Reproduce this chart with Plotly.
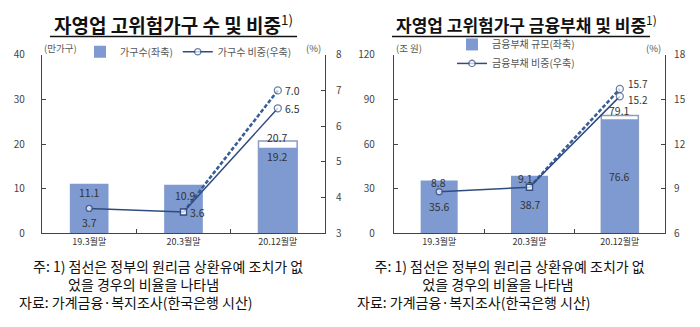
import plotly.graph_objects as go

# ---------------- data ----------------
categories = ["19.3월말", "20.3월말", "20.12월말"]

# left chart: 자영업 고위험가구 수 및 비중
households = [11.1, 10.9, 19.2]              # 만가구 (left axis)
households_nodeferral = [None, None, 20.7]   # without deferral (white top)
hh_ratio = [3.7, 3.6, 6.5]                   # % (right axis), solid
hh_ratio_nodeferral = [None, 3.6, 7.0]       # % dashed

# right chart: 자영업 고위험가구 금융부채 및 비중
debt = [35.6, 38.7, 76.6]                    # 조 원 (left axis)
debt_nodeferral = [None, None, 79.1]
debt_ratio = [8.8, 9.1, 15.2]
debt_ratio_nodeferral = [None, 9.1, 15.7]

W, H = 700, 327
def px(x):
    return x / W
def py(y):
    return 1 - y / H

BAR = "#7E9AD0"
LINE = "#2F4C80"
DASH = "#3A5E96"
AX = "#444444"
FONT = "Noto Sans CJK KR"

fig = go.Figure()

def add_panel(xa, ya, yb, vals, top, ratio, ratio_nd, bar_name, line_name, legend):
    fig.add_trace(go.Bar(x=categories, y=top, xaxis=xa, yaxis=ya, width=0.41,
                         marker=dict(color="white", line=dict(color="#8C9DBF", width=1.5)),
                         showlegend=False, hoverinfo="skip"))
    fig.add_trace(go.Bar(x=categories, y=vals, xaxis=xa, yaxis=ya, width=0.41,
                         marker=dict(color=BAR, line=dict(width=0)), name=bar_name,
                         legend=legend))
    fig.add_trace(go.Scatter(x=categories, y=ratio_nd, xaxis=xa, yaxis=yb, mode="lines+markers",
                             line=dict(color=DASH, width=2.6, dash="4px,2px"),
                             marker=dict(symbol=["square", "square", "circle"], size=[6, 6, 7],
                                         color="white", line=dict(color=LINE, width=1.3)),
                             showlegend=False, connectgaps=False))
    fig.add_trace(go.Scatter(x=categories, y=ratio, xaxis=xa, yaxis=yb, mode="lines+markers",
                             line=dict(color=LINE, width=1.5),
                             marker=dict(symbol=["circle", "square", "circle"], size=[6, 6, 7],
                                         color="white", line=dict(color=LINE, width=1.3)),
                             name=line_name, legend=legend))

add_panel("x", "y", "y2", households, households_nodeferral, hh_ratio, hh_ratio_nodeferral,
          "가구수(좌축)", "가구수 비중(우축)", "legend")
add_panel("x2", "y3", "y4", debt, debt_nodeferral, debt_ratio, debt_ratio_nodeferral,
          "금융부채 규모(좌축)", "금융부채 비중(우축)", "legend2")

ydom = [py(236), py(48)]
xcommon = dict(type="category", showline=True, linecolor=AX, linewidth=1.2, ticks="inside",
               tickson="boundaries", ticklen=4, tickcolor=AX, showgrid=False, zeroline=False,
               tickfont=dict(size=9, color="#333", family=FONT), range=[-0.5, 2.5], fixedrange=True)
ycommon = dict(showline=True, linecolor=AX, linewidth=1.2, ticks="inside", ticklen=4, tickcolor=AX,
               showgrid=False, zeroline=False, tickfont=dict(size=10, color="#444", family=FONT),
               domain=ydom, fixedrange=True)

fig.update_layout(
    width=W, height=H, margin=dict(l=0, r=0, t=0, b=0, pad=0),
    paper_bgcolor="white", plot_bgcolor="white", barmode="overlay",
    font=dict(family=FONT, color="#333"),
    xaxis=dict(domain=[px(42), px(325)], anchor="y", **xcommon),
    xaxis2=dict(domain=[px(394), px(665)], anchor="y3", **xcommon),
    yaxis=dict(range=[0, 40], dtick=10, anchor="x", ticklabelstandoff=14, **ycommon),
    yaxis2=dict(range=[3, 8], dtick=1, anchor="x", overlaying="y", side="right",
                ticklabelstandoff=8, **ycommon),
    yaxis3=dict(range=[0, 120], dtick=30, anchor="x2", ticklabelstandoff=16, **ycommon),
    yaxis4=dict(range=[6, 18], dtick=3, anchor="x2", overlaying="y3", side="right",
                ticklabelstandoff=6, **ycommon),
    legend=dict(orientation="h", x=px(80), y=py(45), xanchor="left", yanchor="middle",
                font=dict(size=10, color="#555", family=FONT), bgcolor="rgba(0,0,0,0)",
                itemwidth=30, traceorder="normal"),
    legend2=dict(orientation="v", x=px(452), y=py(22), xanchor="left", yanchor="top",
                 font=dict(size=10, color="#555", family=FONT), bgcolor="rgba(0,0,0,0)",
                 itemwidth=30, tracegroupgap=0),
    showlegend=True,
)

ann = []
def lab(text, x, y, xr, yr, dx=0, dy=0, size=10.5):
    ann.append(dict(text=text, x=x, y=y, xref=xr, yref=yr, xshift=dx, yshift=dy,
                    showarrow=False, font=dict(size=size, color="#333", family=FONT)))

# left chart labels
lab(f"{households[0]}", categories[0], households[0], "x", "y", 0, -9)
lab(f"{households[1]}", categories[1], households[1], "x", "y", 2, -11)
lab(f"{households[2]}", categories[2], households[2], "x", "y", 0, -9)
lab(f"{households_nodeferral[2]}", categories[2], households_nodeferral[2], "x", "y", 0, 3)
lab(f"{hh_ratio[0]}", categories[0], hh_ratio[0], "x", "y2", 0, -14)
lab(f"{hh_ratio[1]}", categories[1], hh_ratio[1], "x", "y2", 14, 0)
lab(f"{hh_ratio[2]}", categories[2], hh_ratio[2], "x", "y2", 15, 0)
lab(f"{hh_ratio_nodeferral[2]:.1f}", categories[2], hh_ratio_nodeferral[2], "x", "y2", 15, 0)

# right chart labels
lab(f"{debt_ratio[0]}", categories[0], debt_ratio[0], "x2", "y4", -1, 9)
lab(f"{debt[0]}", categories[0], debt[0] / 2, "x2", "y3", 0, 0)
lab(f"{debt_ratio[1]}", categories[1], debt_ratio[1], "x2", "y4", -4, 9)
lab(f"{debt[1]}", categories[1], debt[1] / 2, "x2", "y3", 1, 0)
lab(f"{debt[2]}", categories[2], debt[2] / 2, "x2", "y3", 0, 0)
lab(f"{debt_nodeferral[2]}", categories[2], debt_nodeferral[2], "x2", "y3", 0, 5)
lab(f"{debt_ratio[2]}", categories[2], debt_ratio[2], "x2", "y4", 18, -3, 10)
lab(f"{debt_ratio_nodeferral[2]}", categories[2], debt_ratio_nodeferral[2], "x2", "y4", 18, 5, 10)

def ptext(text, x, y, size, xanchor="left", color="#333", align="left"):
    ann.append(dict(text=text, x=px(x), y=py(y), xref="paper", align=align,
                    yref="paper", xanchor=xanchor, yanchor="middle", showarrow=False,
                    font=dict(size=size, color=color, family=FONT)))

# titles
ptext("<b>자영업 고위험가구 수 및 비중</b><sup>1)</sup>", 173, 16, 19, "center", "#111")
ptext("<b>자영업 고위험가구 금융부채 및 비중</b><sup>1)</sup>", 526, 16, 17, "center", "#111")

# units
ptext("(만가구)", 42, 41, 9.5, "left", "#555")
ptext("(%)", 323, 41, 9.5, "right", "#555")
ptext("(조 원)", 394, 41, 9.5, "left", "#555")
ptext("(%)", 663, 41, 9.5, "right", "#555")

# footnotes (one block each, indents with em/en spaces)
note1 = "주: 1) 점선은 정부의 원리금 상환유예 조치가 없"
note2 = "었을 경우의 비율을 나타냄"
note3 = "자료: 가계금융·복지조사(한국은행 시산)"
left_block = ("\u3000" + note1 + "<br>" + "\u3000\u3000\u3000\u2002" + note2 + "<br>" + note3)
right_block = ("\u3000\u2005" + note1 + "<br>" + "\u3000\u3000\u3000\u3000\u2002\u2006" + note2
               + "<br>" + note3)
ptext(left_block, 17, 289, 14, "left", "#111")
ptext(right_block, 355, 289, 14, "left", "#111")

fig.update_layout(annotations=ann)

shapes = [
    dict(type="line", xref="paper", yref="paper", x0=px(50), x1=px(297), y0=py(29), y1=py(29),
         line=dict(color="#111", width=1.5)),
    dict(type="line", xref="paper", yref="paper", x0=px(392), x1=px(650), y0=py(29), y1=py(29),
         line=dict(color="#111", width=1.5)),
]
fig.update_layout(shapes=shapes)

fig.write_html("out.html", config={"displayModeBar": False})
